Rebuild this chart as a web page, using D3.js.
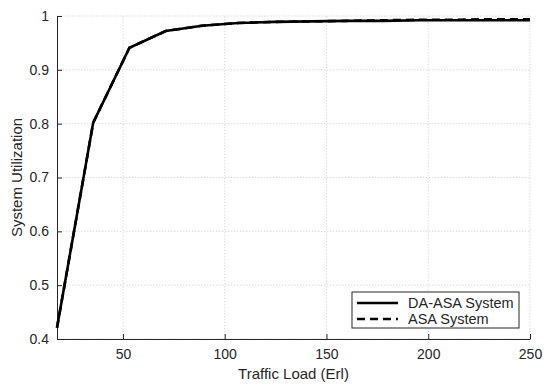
<!DOCTYPE html>
<html>
<head>
<meta charset="utf-8">
<script src="https://cdn.jsdelivr.net/npm/d3@7"></script>
<style>
  body { margin: 0; background: #fff; }
  text { font-family: "Liberation Sans", Arial, sans-serif; fill: #262626; }
</style>
</head>
<body>
<div id="container"></div>
<script>
// traffic load (Erl)
let load = [17.6, 35.4, 53.2, 71.0, 88.8, 106.6, 124.4, 142.2, 160.0, 177.8, 195.6, 213.4, 231.2, 250];
let daAsa = [0.421, 0.802, 0.941, 0.972, 0.982, 0.987, 0.989, 0.990, 0.991, 0.991, 0.992, 0.992, 0.992, 0.992];
let asa = [0.421, 0.802, 0.941, 0.972, 0.982, 0.987, 0.989, 0.990, 0.991, 0.992, 0.993, 0.993, 0.994, 0.994];
let xTicks = [50, 100, 150, 200, 250];
let yTicks = [0.4, 0.5, 0.6, 0.7, 0.8, 0.9, 1];
let seriesNames = ["DA-ASA System", "ASA System"];

let W = 550, H = 386;
let m = { left: 57, right: 20, top: 16, bottom: 47 };

let svg = d3.select('#container')
    .append("svg")
    .attr("width", W)
    .attr("height", H);

let x = d3.scaleLinear().domain([17.6, 250]).range([m.left, W - m.right]);
let y = d3.scaleLinear().domain([0.4, 1]).range([H - m.bottom, m.top]);

// grid
let grid = svg.append("g")
    .attr("stroke", "#d0d0d0")
    .attr("stroke-width", 0.8)
    .attr("stroke-dasharray", "1.5,1.5");
grid.selectAll("line.v")
    .data(xTicks)
    .enter()
    .append("line")
    .attr("x1", d => x(d)).attr("x2", d => x(d))
    .attr("y1", m.top).attr("y2", H - m.bottom);
grid.selectAll("line.h")
    .data(yTicks)
    .enter()
    .append("line")
    .attr("x1", m.left).attr("x2", W - m.right)
    .attr("y1", d => y(d)).attr("y2", d => y(d));

// axes
let xAxis = svg.append("g")
    .attr("transform", "translate(0," + (H - m.bottom) + ")")
    .call(d3.axisBottom(x).tickValues(xTicks).tickSizeInner(-5).tickSizeOuter(0).tickPadding(10).tickFormat(d3.format("d")));
let yAxis = svg.append("g")
    .attr("transform", "translate(" + m.left + ",0)")
    .call(d3.axisLeft(y).tickValues(yTicks).tickSizeInner(-5).tickSizeOuter(0).tickPadding(8).tickFormat(d => d === 1 ? "1" : d3.format(".1f")(d)));
[xAxis, yAxis].forEach(a => {
    a.selectAll("text").style("font-size", "14px").attr("fill", "#262626");
    a.selectAll("line").attr("stroke", "#262626");
    a.select(".domain").attr("stroke", "#262626");
});

// lines
let line = d3.line().x(d => x(d[0])).y(d => y(d[1]));
svg.append("path")
    .datum(load.map((d, i) => [d, daAsa[i]]))
    .attr("fill", "none")
    .attr("stroke", "#000")
    .attr("stroke-width", 2.6)
    .attr("d", line);
svg.append("path")
    .datum(load.map((d, i) => [d, asa[i]]))
    .attr("fill", "none")
    .attr("stroke", "#000")
    .attr("stroke-width", 2.6)
    .attr("stroke-dasharray", "8,5")
    .attr("d", line);

// labels
svg.append("text")
    .attr("x", (m.left + W - m.right) / 2)
    .attr("y", 379)
    .attr("text-anchor", "middle")
    .style("font-size", "15px")
    .text("Traffic Load (Erl)");
svg.append("text")
    .attr("transform", "translate(22," + ((m.top + H - m.bottom) / 2) + ") rotate(-90)")
    .attr("text-anchor", "middle")
    .style("font-size", "15px")
    .text("System Utilization");

// legend
let lg = svg.append("g").attr("transform", "translate(352,292)");
lg.append("rect")
    .attr("width", 167).attr("height", 36)
    .attr("fill", "#fff").attr("stroke", "#262626").attr("stroke-width", 1);
seriesNames.forEach((name, i) => {
    let yy = 11 + i * 16;
    lg.append("line")
        .attr("x1", 5).attr("x2", 46)
        .attr("y1", yy).attr("y2", yy)
        .attr("stroke", "#000").attr("stroke-width", 2.6)
        .attr("stroke-dasharray", i === 1 ? "8,5" : null);
    lg.append("text")
        .attr("x", 56).attr("y", yy + 5)
        .style("font-size", "14.5px")
        .text(name);
});
</script>
</body>
</html>
